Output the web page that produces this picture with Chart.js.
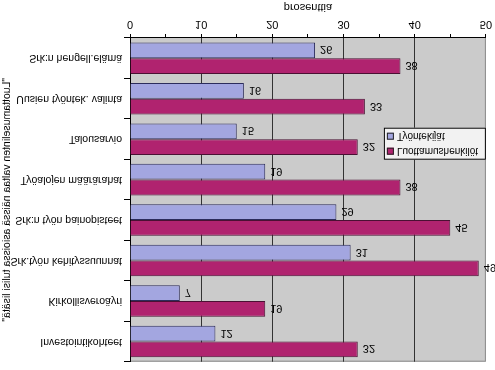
<!DOCTYPE html>
<html>
<head>
<meta charset="utf-8">
<script src="https://cdn.jsdelivr.net/npm/chart.js@4"></script>
<style>
	html, body { margin: 0; padding: 0; background: #fff; }
	#wrap { width: 495px; height: 370px; transform: scaleY(-1); }
</style>
</head>
<body>
<div id="wrap"><canvas id="graph" width="495" height="370"></canvas></div>
<script>
const categories = [
	'Investointikohteet',
	'Kirkollisveroäyri',
	'Srk.työn kehityssuunnat',
	'Srk:n työn painopisteet',
	'Työalojen määrärahat',
	'Talousarvio',
	'Uusien työntek. valinta',
	'Srk:n hengell.elämä',
];
const luottamushenkilot = [32, 19, 49, 45, 38, 32, 33, 38];
const tyontekijat = [12, 7, 31, 29, 19, 15, 16, 26];
const seriesNames = ['Luottamushenkilöt', 'Työntekijät'];

const font = "'Liberation Sans', Arial, sans-serif";

const plotBg = {
	id: 'plotBg',
	beforeDraw(chart) {
		const { ctx, chartArea: a } = chart;
		ctx.save();
		ctx.fillStyle = '#cbcbcb';
		ctx.fillRect(a.left, a.top, a.right - a.left, a.bottom - a.top);
		ctx.strokeStyle = '#8a8a8a';
		ctx.lineWidth = 1;
		ctx.strokeRect(a.left + 0.5, a.top + 0.5, a.right - a.left - 1, a.bottom - a.top);
		ctx.restore();
	},
};

const valueLabels = {
	id: 'valueLabels',
	afterDatasetsDraw(chart) {
		const { ctx } = chart;
		ctx.save();
		ctx.font = '11px ' + font;
		ctx.fillStyle = '#000';
		ctx.textAlign = 'left';
		ctx.textBaseline = 'middle';
		chart.data.datasets.forEach((ds, i) => {
			chart.getDatasetMeta(i).data.forEach((bar, j) => {
				ctx.fillText(ds.data[j], bar.x + 5, bar.y + 1);
			});
		});
		ctx.restore();
	},
};

const boxLegend = {
	id: 'boxLegend',
	afterDraw(chart) {
		const { ctx, chartArea: a } = chart;
		const w = 102, h = 32;
		const x = a.right - w, y = a.top + 202;
		ctx.save();
		ctx.fillStyle = '#f2f2f2';
		ctx.fillRect(x, y, w, h);
		ctx.strokeStyle = '#000';
		ctx.lineWidth = 1;
		ctx.strokeRect(x + 0.5, y + 0.5, w - 1, h - 1);
		ctx.font = '10px ' + font;
		ctx.textBaseline = 'middle';
		chart.data.datasets.forEach((ds, i) => {
			const cy = y + 9 + i * 15;
			ctx.fillStyle = ds.backgroundColor;
			ctx.fillRect(x + 3, cy - 4, 7, 7);
			ctx.strokeStyle = '#222';
			ctx.strokeRect(x + 3.5, cy - 3.5, 6, 6);
			ctx.fillStyle = '#000';
			ctx.fillText(ds.label, x + 13, cy);
		});
		ctx.restore();
	},
};

const data = {
	labels: categories,
	datasets: [
		{
			label: seriesNames[0],
			data: luottamushenkilot,
			backgroundColor: '#b0236f',
			borderColor: '#4a1033',
			borderWidth: 1,
			categoryPercentage: 0.78,
			barPercentage: 1,
		},
		{
			label: seriesNames[1],
			data: tyontekijat,
			backgroundColor: '#a3a6e0',
			borderColor: '#2c2c5c',
			borderWidth: 1,
			categoryPercentage: 0.78,
			barPercentage: 1,
		},
	],
};

const config = {
	type: 'bar',
	data: data,
	plugins: [plotBg, valueLabels, boxLegend],
	options: {
		indexAxis: 'y',
		responsive: false,
		animation: false,
		layout: { padding: { left: 0, top: 3, right: 8, bottom: 0 } },
		scales: {
			x: {
				min: 0,
				max: 50,
				ticks: {
					stepSize: 5,
					autoSkip: false,
					maxRotation: 0,
					padding: 3,
					color: '#000',
					font: { family: font, size: 11 },
					callback: (v) => (v % 10 === 0 ? v : ''),
				},
				grid: {
					color: (c) => (c.tick && c.tick.value % 10 === 0 && c.tick.value > 0 && c.tick.value < 50 ? '#333' : 'rgba(0,0,0,0)'),
					tickColor: '#000',
					tickLength: 4,
				},
				border: { color: '#000' },
				title: {
					display: true,
					text: 'prosenttia',
					color: '#000',
					font: { family: font, size: 11 },
					padding: { top: 2, bottom: 0 },
				},
				afterFit: (s) => { s.height = 38; },
			},
			y: {
				ticks: {
					color: '#000',
					padding: 2,
					autoSkip: false,
					font: { family: font, size: 10.5 },
				},
				grid: {
					drawOnChartArea: false,
					offset: true,
					tickColor: '#000',
					tickLength: 6,
				},
				border: { color: '#000' },
				title: {
					display: true,
					text: '"Luottamuselinten valtaa näissä asioissa tulisi lisätä"',
					color: '#000',
					font: { family: font, size: 10.5 },
					padding: { top: 1, bottom: 0 },
				},
				afterFit: (s) => { s.width = 130; },
			},
		},
		plugins: {
			legend: { display: false },
			tooltip: { enabled: false },
		},
	},
};

const c = new Chart(document.getElementById('graph'), config);
</script>
</body>
</html>
